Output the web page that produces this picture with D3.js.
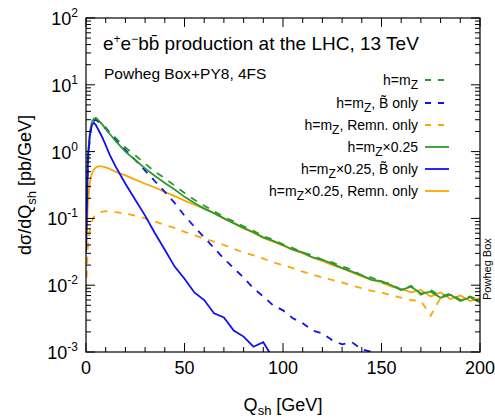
<!DOCTYPE html>
<html><head><meta charset="utf-8">
<script src="https://cdn.jsdelivr.net/npm/d3@7"></script>
<style>body{margin:0;background:#fff}text{font-family:"Liberation Sans",Arial,sans-serif}</style>
</head><body><svg id="c" width="495" height="418"></svg>
<script>
const qs=[0,1,2,3,4,5,6,8,10,12,15,20,25,30,35,40,45,50,55,60,65,70,75,80,85,90,95,100,105,110,115,120,125,130,135,140,145,150,155,160,165,170,175,180,185,190,195,200];
const greenSolid=[0.15,0.9,2.0,2.8,3.1,3.2,3.0,2.6,2.2,1.85,1.45,1.0,0.75,0.56,0.43,0.34,0.27,0.21,0.17,0.14,0.12,0.1,0.085,0.072,0.062,0.052,0.046,0.04,0.034,0.031,0.026,0.024,0.021,0.018,0.016,0.014,0.012,0.0115,0.010,0.0085,0.0095,0.0075,0.0080,0.0065,0.0072,0.0058,0.0066,0.0055];
const greenDash=[0.1,0.7,1.8,2.6,2.9,3.0,2.9,2.6,2.3,1.95,1.6,1.15,0.88,0.66,0.5,0.4,0.31,0.24,0.19,0.155,0.128,0.105,0.09,0.076,0.065,0.054,0.048,0.041,0.036,0.031,0.028,0.024,0.022,0.019,0.017,0.014,0.013,0.011,0.0105,0.0085,0.0098,0.0072,0.0085,0.0068,0.0075,0.006,0.0068,0.0058];
const orangeSolid=[0.03,0.18,0.35,0.47,0.54,0.58,0.6,0.6,0.58,0.55,0.5,0.44,0.38,0.33,0.29,0.25,0.215,0.185,0.16,0.14,0.12,0.1,0.085,0.071,0.061,0.051,0.045,0.039,0.034,0.030,0.026,0.023,0.020,0.018,0.0155,0.0135,0.012,0.011,0.0095,0.0088,0.0078,0.0085,0.0068,0.0078,0.0062,0.0070,0.0058,0.0064];
const orangeDash=[0.008,0.04,0.07,0.09,0.105,0.115,0.12,0.125,0.128,0.127,0.124,0.118,0.11,0.1,0.09,0.08,0.072,0.063,0.056,0.05,0.045,0.04,0.035,0.031,0.028,0.025,0.022,0.02,0.018,0.016,0.0145,0.013,0.012,0.011,0.0098,0.009,0.0082,0.0078,0.007,0.0065,0.006,0.0058,0.0035,0.0065,0.0072,0.006,0.0066,0.0056];
const blueSolid=[0.03,0.8,1.8,2.5,2.7,2.5,2.2,1.7,1.25,0.9,0.6,0.33,0.19,0.11,0.06,0.034,0.019,0.0125,0.0078,0.006,0.0038,0.0033,0.0021,0.0017,0.0012,0.0014,0.0008,null,null,null,null,null,null,null,null,null,null,null,null,null,null,null,null,null,null,null,null,null];
const blueDash=[0.1,0.7,1.8,2.6,2.9,3.0,2.85,2.5,2.2,1.85,1.5,1.05,0.75,0.52,0.36,0.25,0.17,0.11,0.075,0.052,0.036,0.025,0.018,0.013,0.009,0.0068,0.005,0.0042,0.0032,0.0027,0.0021,0.0019,0.0015,0.0013,0.0014,0.0011,0.001,0.0009,null,null,null,null,null,null,null,null,null,null];
const xTicks=[0,50,100,150,200];
const yTicks=[1e-3,1e-2,1e-1,1,10,100];
const legendLabels=["h=m<sub>Z</sub>","h=m<sub>Z</sub>, B̃ only","h=m<sub>Z</sub>, Remn. only","h=m<sub>Z</sub>×0.25","h=m<sub>Z</sub>×0.25, B̃ only","h=m<sub>Z</sub>×0.25, Remn. only"];

const svg=d3.select("#c");
const L=86,R=480,T=18,B=352;
const x=d3.scaleLinear().domain([0,200]).range([L,R]);
const y=d3.scaleLog().domain([1e-3,100]).range([B,T]);
svg.append("defs").append("clipPath").attr("id","cp").append("rect").attr("x",L).attr("y",T).attr("width",R-L).attr("height",B-T);
const series=[
 {v:greenDash,c:"#2e9a2e",d:"7,7"},{v:blueDash,c:"#1010ee",d:"7,7"},{v:orangeDash,c:"#ffa500",d:"7,7"},
 {v:greenSolid,c:"#2e9a2e",d:null},{v:blueSolid,c:"#1010ee",d:null},{v:orangeSolid,c:"#ffa500",d:null}];
const line=d3.line().defined(d=>d[1]!=null).x(d=>x(d[0])).y(d=>y(d[1]));
const g=svg.append("g").attr("clip-path","url(#cp)");
[2,5,0,1,3,4].forEach(i=>{const s=series[i];
 g.append("path").attr("d",line(qs.map((q,k)=>[q,s.v[k]]))).attr("fill","none").attr("stroke",s.c).attr("stroke-width",1.8).attr("stroke-dasharray",s.d);});
svg.append("rect").attr("x",L).attr("y",T).attr("width",R-L).attr("height",B-T).attr("fill","none").attr("stroke","#000").attr("stroke-width",1.2);
const tk=svg.append("g").attr("stroke","#000").attr("stroke-width",1);
for(let v=0;v<=200;v+=10){const big=v%50==0;const l=big?9:5;
 tk.append("line").attr("x1",x(v)).attr("x2",x(v)).attr("y1",B).attr("y2",B-l);
 tk.append("line").attr("x1",x(v)).attr("x2",x(v)).attr("y1",T).attr("y2",T+l);}
for(let e=-3;e<2;e++)for(let m=1;m<10;m++){const v=m*Math.pow(10,e);const l=m==1?9:5;
 [[L,1],[R,-1]].forEach(([xx,s])=>tk.append("line").attr("x1",xx).attr("x2",xx+s*l).attr("y1",y(v)).attr("y2",y(v)));}
[[L,1],[R,-1]].forEach(([xx,s])=>tk.append("line").attr("x1",xx).attr("x2",xx+s*9).attr("y1",y(100)).attr("y2",y(100)));
xTicks.forEach(v=>svg.append("text").attr("x",x(v)).attr("y",B+22).attr("text-anchor","middle").attr("font-size",18).text(v));
yTicks.forEach(v=>{const e=Math.round(Math.log10(v));const t=svg.append("text").attr("x",L-8).attr("y",y(v)+7).attr("text-anchor","end").attr("font-size",18);
 t.append("tspan").text("10");t.append("tspan").attr("dy",-8).attr("font-size",12).text(e);});
const t1=svg.append("text").attr("x",103).attr("y",50).attr("font-size",19);
t1.append("tspan").text("e");t1.append("tspan").attr("dy",-7).attr("font-size",12).text("+");
t1.append("tspan").attr("dy",7).text("e");t1.append("tspan").attr("dy",-7).attr("font-size",12).text("−");
t1.append("tspan").attr("dy",7).text("bb̄ production at the LHC, 13 TeV");
svg.append("text").attr("x",104).attr("y",79).attr("font-size",15.5).text("Powheg Box+PY8, 4FS");
const rows=[80,103,125,147,169,191];
legendLabels.forEach((lab,i)=>{const s=series[i];const yy=rows[i];
 const t=svg.append("text").attr("x",418).attr("y",yy+5).attr("text-anchor","end").attr("font-size",14);
 lab.split(/<sub>|<\/sub>/).forEach((p,k)=>{if(!p)return;const ts=t.append("tspan").text(p);if(k%2==1)ts.attr("dy",4).attr("font-size",12);else if(k>0)ts.attr("dy",-4);});
 svg.append("line").attr("x1",425).attr("x2",449).attr("y1",yy).attr("y2",yy).attr("stroke",s.c).attr("stroke-width",1.8).attr("stroke-dasharray",s.d?"6,7":null);});
const xl=svg.append("text").attr("x",283).attr("y",411).attr("text-anchor","middle").attr("font-size",18);
xl.append("tspan").text("Q");xl.append("tspan").attr("dy",4).attr("font-size",13).text("sh");xl.append("tspan").attr("dy",-4).text(" [GeV]");
const yl=svg.append("text").attr("transform","translate(31,185) rotate(-90)").attr("text-anchor","middle").attr("font-size",18);
yl.append("tspan").text("dσ/dQ");yl.append("tspan").attr("dy",5).attr("font-size",13).text("sh");yl.append("tspan").attr("dy",-5).text(" [pb/GeV]");
svg.append("text").attr("transform","translate(491,300) rotate(-90)").attr("font-size",11).attr("font-family","DejaVu Sans Mono,monospace").text("Powheg Box");
</script></body></html>
